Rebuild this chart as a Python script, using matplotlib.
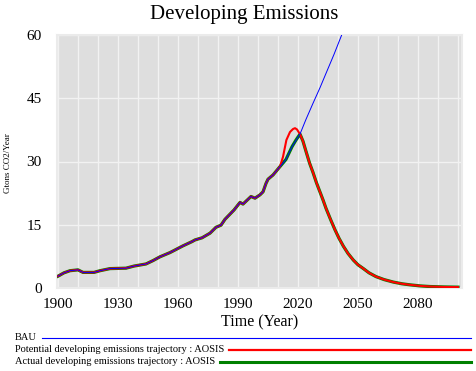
import matplotlib
matplotlib.use("Agg")
import matplotlib.pyplot as plt
from matplotlib.lines import Line2D

plt.rcParams['font.family'] = ['Liberation Serif', 'DejaVu Serif']

# shared history (BAU, potential and actual all follow it up to ~2011)
hist_years = [1900, 1903, 1906, 1910, 1912.5, 1918, 1921, 1926, 1934, 1938,
              1944, 1947.5, 1951, 1956, 1962.5, 1967, 1968.5, 1972, 1976,
              1979, 1981.5, 1983.5, 1988, 1991, 1992.5, 1996.5, 1998.5,
              2001, 2002.5, 2004, 2005, 2007.5, 2011]
hist_vals = [2.8, 3.6, 4.1, 4.3, 3.7, 3.7, 4.1, 4.6, 4.7, 5.2,
             5.7, 6.5, 7.4, 8.4, 10.0, 11.0, 11.4, 11.9, 13.0,
             14.4, 14.9, 16.3, 18.5, 20.3, 19.9, 21.7, 21.3,
             22.1, 22.8, 24.8, 25.8, 26.8, 28.8]

# BAU continues upward after history
bau_years = [2014, 2017, 2021, 2024, 2027.5, 2031, 2034, 2038, 2041.5, 2045, 2050]
bau_vals = [30.5, 33.5, 36.5, 40.0, 43.8, 47.5, 50.9, 55.4, 59.6, 63.8, 69.8]

# potential trajectory bumps up before joining the actual decline
pot_years = [2012.5, 2014.2, 2016, 2017.5, 2018.5, 2019.5, 2020.3, 2021]
pot_vals = [31.1, 35.1, 37.0, 37.7, 37.9, 37.6, 37.0, 36.5]

# actual trajectory peaks ~2021 then declines
act_years = [2014, 2017, 2019, 2021, 2022.5, 2024, 2025.8, 2027.5, 2029.2,
             2032.5, 2034, 2036.5, 2038.5, 2040.5, 2042.7, 2045, 2047.7,
             2050, 2052.7, 2055.5, 2059, 2063, 2067.7, 2072, 2076, 2081,
             2086, 2093, 2100]
act_vals = [30.5, 33.5, 35.1, 36.5, 34.8, 32.4, 29.6, 27.4, 25.0,
            20.9, 18.9, 16.0, 13.8, 11.8, 9.9, 8.2, 6.6,
            5.5, 4.6, 3.6, 2.7, 2.0, 1.4, 1.0, 0.75, 0.5,
            0.35, 0.25, 0.2]

bau_x = hist_years + bau_years
bau_y = hist_vals + bau_vals
pot_x = hist_years + pot_years + act_years[4:]
pot_y = hist_vals + pot_vals + act_vals[4:]
act_x = hist_years + act_years
act_y = hist_vals + act_vals

W, H = 477, 371
fig = plt.figure(figsize=(W / 100, H / 100), dpi=100)
ax = fig.add_axes([57 / W, 1 - 288 / H, (462 - 57) / W, (288 - 35) / H])
ax.set_facecolor('#dedede')

ax.plot(act_x, act_y, color='#008000', lw=2.3, zorder=3)
ax.plot(pot_x, pot_y, color='#ff0000', lw=1.5, zorder=4)
ax.plot(bau_x, bau_y, color='#0000ff', lw=0.7, zorder=5)

ax.set_xlim(1899.5, 2102)
ax.set_ylim(0, 60)
ax.set_xticks(range(1900, 2081, 30))
ax.set_xticks(range(1910, 2101, 10), minor=True)
ax.set_yticks([0, 15, 30, 45, 60])
ax.grid(True, which='both', axis='x', color='#f2f2f2', lw=1)
ax.grid(True, which='major', axis='y', color='#f2f2f2', lw=1)
ax.set_axisbelow(True)
ax.tick_params(which='both', length=0, labelsize=11, pad=7)
ax.tick_params(axis='y', pad=11)
for s in ax.spines.values():
    s.set_color('#ebebeb')
    s.set_linewidth(1.5)

ax.set_xlabel('Time (Year)', fontsize=11.5, labelpad=3)
fig.text(8 / W, 1 - 163 / H, 'Gtons CO2/Year', rotation=90, fontsize=6.5,
         ha='center', va='center')
fig.text(0.5 + 6 / W, 1 - 14 / H, 'Developing Emissions', fontsize=15,
         ha='center', va='center')

# legend rows under the chart
legend_rows = [
    ('BAU', '#0000ff', 0.8, 338),
    ('Potential developing emissions trajectory : AOSIS', '#ff0000', 1.6, 350),
    ('Actual developing emissions trajectory : AOSIS', '#008000', 2.2, 362),
]
fig.canvas.draw()
renderer = fig.canvas.get_renderer()
for label, color, lw, ypix in legend_rows:
    t = fig.text(15 / W, 1 - ypix / H, label, fontsize=7.5, ha='left', va='center')
    bb = t.get_window_extent(renderer=renderer)
    x0 = (bb.x1 + 5) / W
    fig.add_artist(Line2D([x0, 471 / W], [1 - ypix / H, 1 - ypix / H],
                          color=color, lw=lw, transform=fig.transFigure))

fig.savefig('out.png', dpi=100)
